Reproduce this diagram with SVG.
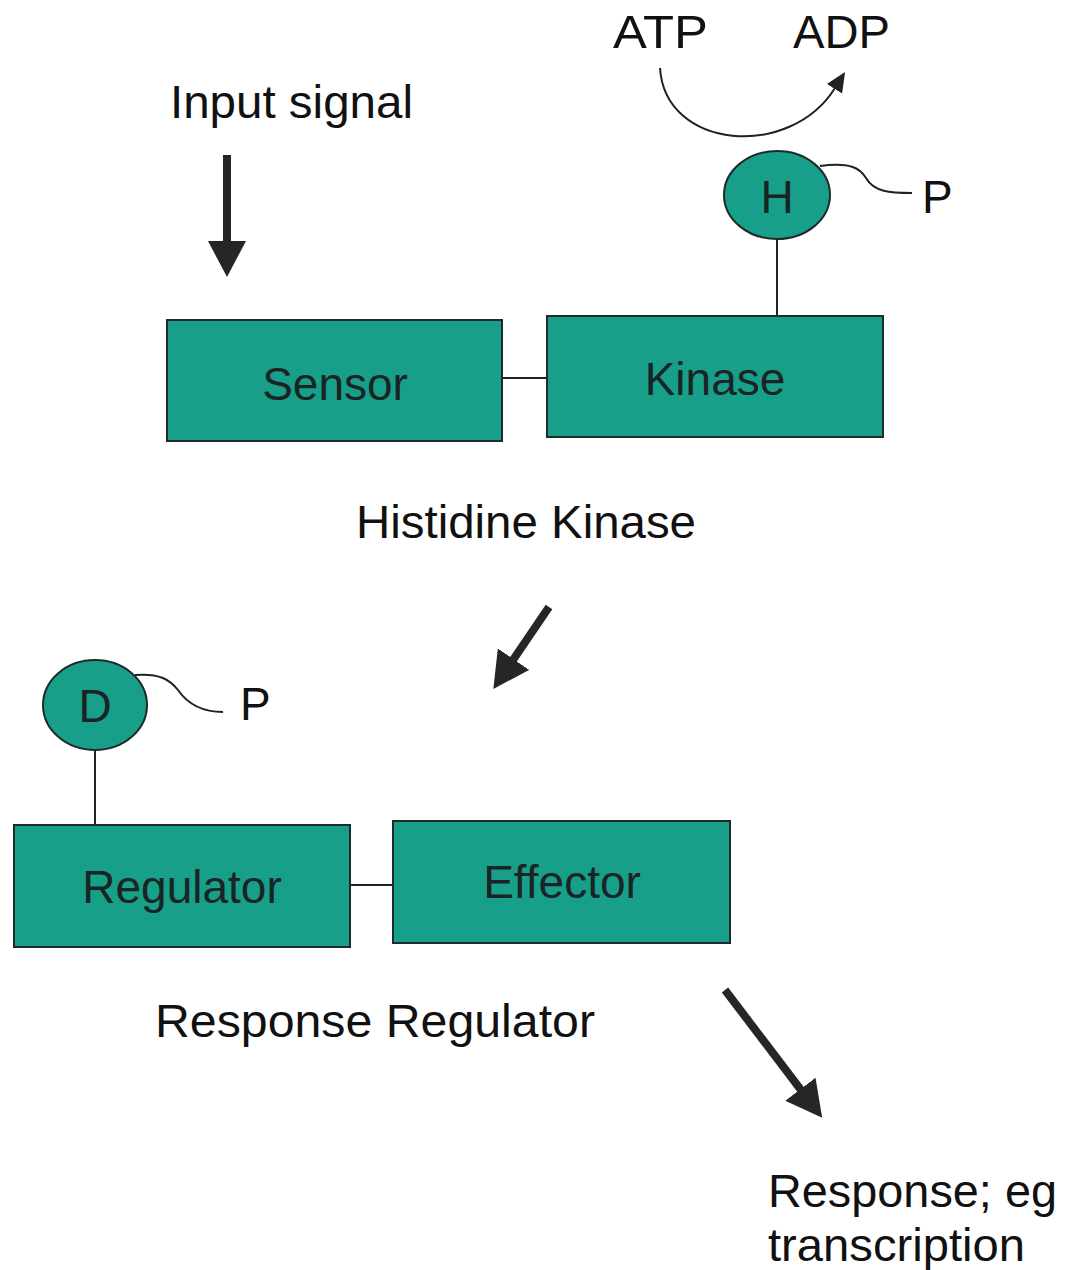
<svg xmlns="http://www.w3.org/2000/svg" width="1073" height="1270" viewBox="0 0 1073 1270">
  <style>
    .box { fill: #179f8a; stroke: #1f2a2a; stroke-width: 2; }
    .dom { fill: #179f8a; stroke: #1f2a2a; stroke-width: 2; }
    .link { fill: none; stroke: #1f2222; stroke-width: 2; }
    .flow { fill: none; stroke: #262626; stroke-width: 8; }
    .inner { font-family: "Liberation Sans", Arial, sans-serif; font-size: 46px; fill: #1a2424; text-anchor: middle; }
    .label { font-family: "Liberation Sans", Arial, sans-serif; font-size: 46px; fill: #111; }
  </style>
  <defs>
    <marker id="head" viewBox="0 0 36 38" refX="1" refY="19" markerWidth="36" markerHeight="38" markerUnits="userSpaceOnUse" orient="auto">
      <path d="M0,0 L36,19 L0,38 z" fill="#262626"/>
    </marker>
    <marker id="smallhead" viewBox="0 0 20 20" refX="1" refY="10" markerWidth="20" markerHeight="20" markerUnits="userSpaceOnUse" orient="auto">
      <path d="M0,1 L20,10 L0,19 z" fill="#222"/>
    </marker>
  </defs>

  <rect width="1073" height="1270" fill="#fff"/>

  <!-- connectors -->
  <g id="connectors">
    <line class="link" x1="502" y1="378" x2="547" y2="378"/>
    <line class="link" x1="777" y1="239" x2="777" y2="316"/>
    <line class="link" x1="95" y1="750" x2="95" y2="825"/>
    <line class="link" x1="350" y1="885" x2="393" y2="885"/>
    <path class="link" d="M820,166 C850,162 860,168 866,178 C874,192 890,193 912,193"/>
    <path class="link" d="M135,675 C160,673 170,680 178,690 C187,703 200,712 223,712"/>
    <path class="link" d="M660,68 C665,150 790,160 835,88" marker-end="url(#smallhead)"/>
    <line class="flow" x1="227" y1="155" x2="227" y2="242" marker-end="url(#head)"/>
    <line class="flow" x1="549" y1="607" x2="513" y2="660" marker-end="url(#head)"/>
    <line class="flow" x1="725" y1="990" x2="801" y2="1090" marker-end="url(#head)"/>
  </g>

  <!-- histidine kinase -->
  <g id="sensor">
    <rect class="box" x="167" y="320" width="335" height="121"/>
    <text class="inner" x="335" y="400">Sensor</text>
  </g>
  <g id="kinase">
    <rect class="box" x="547" y="316" width="336" height="121"/>
    <text class="inner" x="715" y="395">Kinase</text>
  </g>
  <g id="his-site">
    <ellipse class="dom" cx="777" cy="195" rx="53" ry="44"/>
    <text class="inner" x="777" y="213" font-size="44">H</text>
  </g>

  <!-- response regulator -->
  <g id="regulator">
    <rect class="box" x="14" y="825" width="336" height="122"/>
    <text class="inner" x="182" y="903">Regulator</text>
  </g>
  <g id="effector">
    <rect class="box" x="393" y="821" width="337" height="122"/>
    <text class="inner" x="562" y="898">Effector</text>
  </g>
  <g id="asp-site">
    <ellipse class="dom" cx="95" cy="705" rx="52" ry="45"/>
    <text class="inner" x="95" y="722" font-size="42">D</text>
  </g>

  <!-- free labels -->
  <g id="labels">
    <text class="label" x="613" y="48" font-size="47" textLength="95" lengthAdjust="spacingAndGlyphs">ATP</text>
    <text class="label" x="793" y="48" font-size="47" textLength="97" lengthAdjust="spacingAndGlyphs">ADP</text>
    <text class="label" x="922" y="213" font-size="44">P</text>
    <text class="label" x="240" y="720" font-size="42">P</text>
    <text class="label" x="170" y="118" font-size="44" textLength="243" lengthAdjust="spacingAndGlyphs">Input signal</text>
    <text class="label" x="356" y="538" textLength="340" lengthAdjust="spacingAndGlyphs">Histidine Kinase</text>
    <text class="label" x="155" y="1037" textLength="440" lengthAdjust="spacingAndGlyphs">Response Regulator</text>
    <text class="label" x="768" y="1207" textLength="289" lengthAdjust="spacingAndGlyphs">Response; eg</text>
    <text class="label" x="768" y="1261" textLength="257" lengthAdjust="spacingAndGlyphs">transcription</text>
  </g>
</svg>
